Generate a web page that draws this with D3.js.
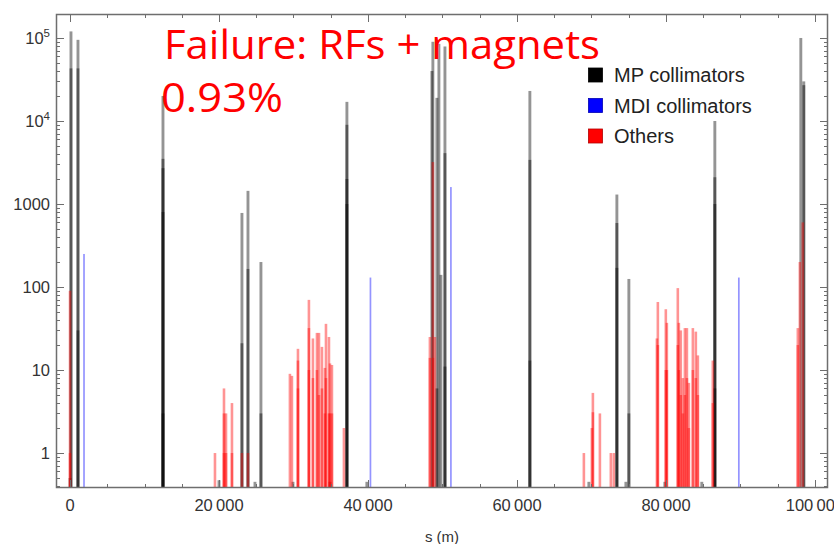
<!DOCTYPE html>
<html><head><meta charset="utf-8">
<script src="https://cdn.jsdelivr.net/npm/d3@7"></script>
<style>body{margin:0;background:#fff}svg{display:block}</style>
</head><body>
<script>
// ---- data ----
const xTicks = [0, 20000, 40000, 60000, 80000, 100000];
const xTickLabels = ["0", "20\u2009000", "40\u2009000", "60\u2009000", "80\u2009000", "100\u2009000"];
const yTicks = [1, 10, 100, 1000, 10000, 100000];
const yTickLabels = ["1", "10", "100", "1000", "10^4", "10^5"];
const legendLabels = ["MP collimators", "MDI collimators", "Others"];
const titleLines = ["Failure: RFs + magnets", "0.93%"];
const axisLabel = "s (m)";

// [s (m), losses]
const mpBars = [
  [0, 0.5], [130, 1.2e5], [130, 4.3e4], [1070, 9.5e4], [1070, 4.3e4], [1070, 30],
  [12480, 2e4], [12480, 3500], [12480, 2700], [12480, 800], [12480, 3],
  [20000, 0.47], [23080, 780], [23080, 21], [23890, 1440], [23890, 165],
  [24830, 0.45], [25630, 200], [25630, 3], [29930, 0.45], [34900, 0.45],
  [37170, 1.7e4], [37170, 9000], [37170, 2000], [37170, 1000], [39850, 0.45],
  [48580, 4e4], [48710, 9e4], [49250, 1.9e4], [49250, 6], [49520, 8.5e4], [49790, 140],
  [50330, 7.9e4], [50330, 4100], [50330, 11],
  [61730, 2.3e4], [61730, 3400], [61730, 13], [69650, 0.45],
  [73410, 1300], [73410, 590], [73410, 170], [74620, 0.45], [75020, 125], [75020, 3],
  [79850, 0.45], [84810, 0.45], [86560, 1e4], [86560, 2100], [86560, 1000], [86560, 6],
  [98100, 1e5], [98500, 2.7e4], [98500, 3e4]
];
const mdiBars = [[1880, 250], [40330, 130], [51130, 1600], [89780, 130]];
const otherBars = [
  [0, 90], [0, 1], [19460, 1], [20670, 6], [20670, 3], [20670, 1], [20940, 3], [20940, 1],
  [21740, 4], [21740, 1], [23080, 1], [23890, 1],
  [29520, 9], [29790, 8.5], [30600, 18], [30600, 13], [30600, 6],
  [32070, 70], [32070, 32], [32070, 10], [32610, 24], [32610, 8], [33150, 28], [33150, 10],
  [33420, 28], [33420, 5], [33820, 19], [33820, 6], [34220, 10.6], [34220, 3],
  [34360, 36], [34360, 8], [34760, 25], [34760, 3], [34900, 12], [34900, 3], [35160, 11.5], [35160, 3],
  [36770, 2], [48310, 25], [48310, 14], [48710, 3200], [48710, 14], [48980, 25],
  [68980, 1], [70050, 2], [70190, 5.3], [70190, 3.1], [71130, 3], [72600, 1], [73000, 1],
  [78780, 24], [78910, 66], [78910, 20], [79980, 54], [79980, 10], [80120, 37], [80120, 10],
  [81590, 97], [81590, 20], [81730, 37], [81730, 10], [81990, 30], [81990, 5], [82270, 8], [82270, 3],
  [82540, 32], [82540, 5], [82810, 32], [82810, 8], [83070, 7], [83070, 2],
  [83610, 32], [83610, 10], [84010, 29], [84010, 8], [84280, 15], [84280, 5],
  [86290, 13], [86290, 4], [97700, 32], [97700, 20], [97970, 200], [98370, 600]
];
const seriesColors = ["#000000", "#0000ff", "#ff0000"];

// ---- layout ----
const W = 834, H = 544;
const L = 56, R = 828, T = 14, B = 488;
const svg = d3.select("body").append("svg").attr("width", W).attr("height", H);

const x = d3.scaleLinear().domain([-1880, 101750]).range([L, R]);
const y = d3.scaleLog().domain([0.379, 1.945e5]).range([B, T]);

svg.append("clipPath").attr("id", "clip").append("rect")
  .attr("x", L).attr("y", T).attr("width", R - L).attr("height", B - T);

const g = svg.append("g").attr("clip-path", "url(#clip)");
function drawBars(data, color, w) {
  g.append("g").selectAll("rect").data(data).join("rect")
    .attr("x", d => x(d[0]) - w / 2)
    .attr("width", w)
    .attr("y", d => y(d[1]))
    .attr("height", d => B + 2 - y(d[1]))
    .attr("fill", color)
    .attr("fill-opacity", 0.42);
}
drawBars(mpBars, seriesColors[0], 2.9);
drawBars(mdiBars, seriesColors[1], 1.7);
drawBars(otherBars, seriesColors[2], 2.6);

// ---- frame & ticks ----
const frameColor = "#6e6e6e";
const ax = svg.append("g").attr("stroke", frameColor).attr("fill", "none");
ax.append("rect").attr("x", L + 0.5).attr("y", T + 0.5).attr("width", R - L - 1).attr("height", B - T - 1).attr("stroke-width", 1.5);

const xMinor = d3.range(0, 100001, 5000);
xMinor.forEach(s => {
  const len = (s % 20000 === 0) ? 8 : 4;
  const px = Math.round(x(s)) + 0.5;
  ax.append("line").attr("x1", px).attr("x2", px).attr("y1", B).attr("y2", B - len);
  ax.append("line").attr("x1", px).attr("x2", px).attr("y1", T).attr("y2", T + len);
});
const yMinor = [];
for (let k = -1; k <= 5; k++) for (let m = 1; m <= 9; m++) {
  const v = m * Math.pow(10, k);
  if (v >= y.domain()[0] && v <= y.domain()[1]) yMinor.push([v, m === 1]);
}
yMinor.forEach(([v, major]) => {
  const len = major ? 8 : 4;
  const py = Math.round(y(v)) + 0.5;
  ax.append("line").attr("x1", L).attr("x2", L + len).attr("y1", py).attr("y2", py);
  ax.append("line").attr("x1", R).attr("x2", R - len).attr("y1", py).attr("y2", py);
});

// tick labels
const tickFont = "'Liberation Sans', Arial, sans-serif";
const labColor = "#333";
svg.append("g").selectAll("text").data(xTicks).join("text")
  .attr("x", d => x(d)).attr("y", 511)
  .attr("text-anchor", "middle").attr("font-family", tickFont).attr("font-size", 16.5)
  .attr("fill", labColor).text((d, i) => xTickLabels[i]);

const yl = svg.append("g");
yTicks.forEach((v, i) => {
  const lab = yTickLabels[i];
  const t = yl.append("text").attr("x", 50).attr("y", y(v) + 6)
    .attr("text-anchor", "end").attr("font-family", tickFont).attr("font-size", 16.5).attr("fill", labColor);
  if (lab.includes("^")) {
    const [b, e] = lab.split("^");
    t.append("tspan").text(b);
    t.append("tspan").attr("dy", -7).attr("font-size", 11.5).text(e);
  } else t.text(lab);
});

svg.append("text").attr("x", 442).attr("y", 542).attr("text-anchor", "middle")
  .attr("font-family", tickFont).attr("font-size", 15).attr("fill", labColor).text(axisLabel);

// legend
const lg = svg.append("g");
legendLabels.forEach((lab, i) => {
  const cy = 75 + i * 30.5;
  lg.append("rect").attr("x", 588.5).attr("y", cy - 7).attr("width", 14).attr("height", 14)
    .attr("fill", seriesColors[i]).attr("stroke", d3.color(seriesColors[i]).darker(1)).attr("stroke-width", 0.8);
  lg.append("text").attr("x", 614).attr("y", cy + 7).attr("font-family", tickFont)
    .attr("font-size", 20).attr("fill", "#222").text(lab);
});

// title
const tf = "'Open Sans', 'Noto Sans', sans-serif";
svg.append("text").attr("x", 164).attr("y", 59).attr("font-family", tf).attr("font-size", 41)
  .attr("fill", "#ff0000").attr("textLength", 436).attr("lengthAdjust", "spacingAndGlyphs").text(titleLines[0]);
svg.append("text").attr("x", 161).attr("y", 112).attr("font-family", tf).attr("font-size", 41)
  .attr("fill", "#ff0000").attr("textLength", 122).attr("lengthAdjust", "spacingAndGlyphs").text(titleLines[1]);
</script>
</body></html>
